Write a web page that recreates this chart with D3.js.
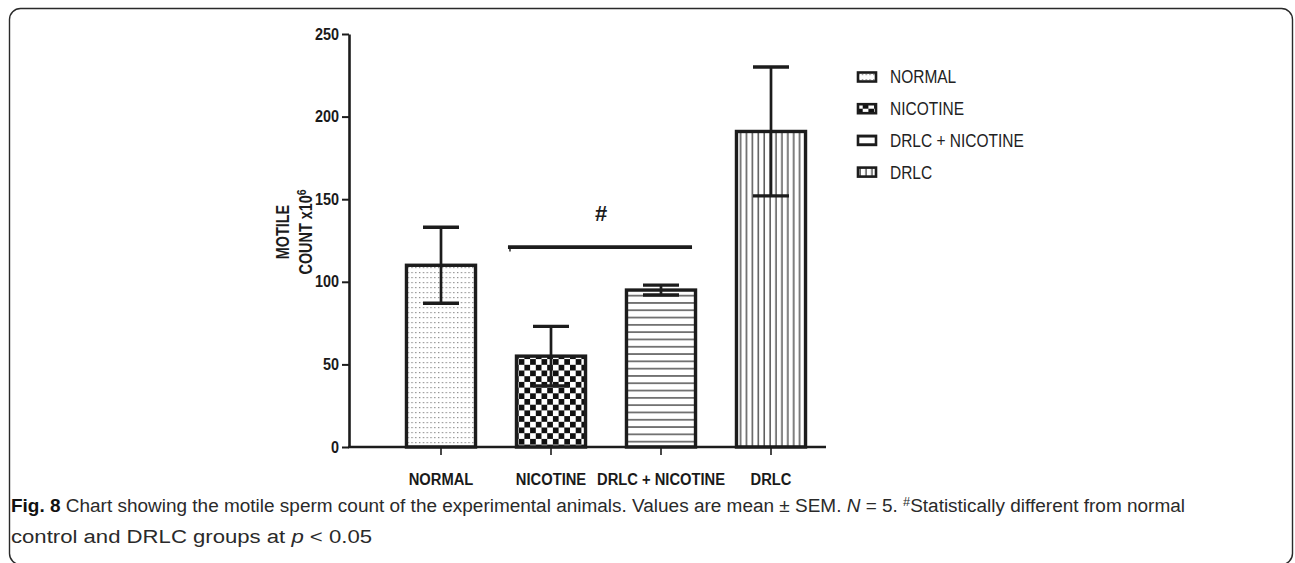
<!DOCTYPE html>
<html>
<head>
<meta charset="utf-8">
<script src="https://cdn.jsdelivr.net/npm/d3@7"></script>
<style>
  html, body { margin: 0; padding: 0; background: #fff; }
  svg { display: block; }
  .tick text { font-family: "Liberation Sans", Arial, sans-serif; font-weight: bold; font-size: 16px; fill: #1a1a1a; }
</style>
</head>
<body>
<svg id="chart" width="1295" height="563"></svg>
<script>
// Motile sperm count per group (mean ± SEM, x10^6)
const categories = ["NORMAL", "NICOTINE", "DRLC + NICOTINE", "DRLC"];
const means = [110, 55, 95, 191];
const sems = [23, 18, 3, 39];
const yTicks = [0, 50, 100, 150, 200, 250];
const sigBar = { from: "NICOTINE", to: "DRLC + NICOTINE", value: 121, label: "#" };

const svg = d3.select("#chart");
const ink = "#1c1c1c";

// Squeeze text horizontally to mimic a condensed typeface
function condense(sel, factor) {
  sel.each(function () {
    const w = this.getComputedTextLength();
    d3.select(this).attr("textLength", w * factor).attr("lengthAdjust", "spacingAndGlyphs");
  });
}

// Panel frame
svg.append("rect")
  .attr("x", 9.5).attr("y", 8.5)
  .attr("width", 1283).attr("height", 556)
  .attr("rx", 11).attr("ry", 11)
  .attr("fill", "none").attr("stroke", "#2a2a2a").attr("stroke-width", 1.4);

// Fill patterns for each group
const defs = svg.append("defs");

const pDots = defs.append("pattern").attr("id", "pat-dots")
  .attr("patternUnits", "userSpaceOnUse").attr("width", 3.8).attr("height", 5);
pDots.append("rect").attr("width", 3.8).attr("height", 5).attr("fill", "#fff");
pDots.append("rect").attr("x", 1).attr("y", 2).attr("width", 1.3).attr("height", 1.2).attr("fill", "#8a8a8a");

const pCheck = defs.append("pattern").attr("id", "pat-check")
  .attr("patternUnits", "userSpaceOnUse").attr("width", 11.4).attr("height", 11.4);
pCheck.append("rect").attr("width", 11.4).attr("height", 11.4).attr("fill", "#fff");
pCheck.append("rect").attr("width", 5.7).attr("height", 5.7).attr("fill", "#111");
pCheck.append("rect").attr("x", 5.7).attr("y", 5.7).attr("width", 5.7).attr("height", 5.7).attr("fill", "#111");

const pHoriz = defs.append("pattern").attr("id", "pat-horiz")
  .attr("patternUnits", "userSpaceOnUse").attr("width", 8).attr("height", 7.3);
pHoriz.append("rect").attr("width", 8).attr("height", 7.3).attr("fill", "#fff");
pHoriz.append("rect").attr("y", 3).attr("width", 8).attr("height", 1.3).attr("fill", "#3a3a3a");

const pVert = defs.append("pattern").attr("id", "pat-vert")
  .attr("patternUnits", "userSpaceOnUse").attr("width", 5.9).attr("height", 8);
pVert.append("rect").attr("width", 5.9).attr("height", 8).attr("fill", "#fff");
pVert.append("rect").attr("x", 2.5).attr("width", 1.2).attr("height", 8).attr("fill", "#2a2a2a");

const fills = ["url(#pat-dots)", "url(#pat-check)", "url(#pat-horiz)", "url(#pat-vert)"];

// Scales
const y = d3.scaleLinear().domain([0, 250]).range([447, 34]);
const x = d3.scaleBand().domain(categories).range([386, 826])
  .paddingInner(0.345).paddingOuter(0.1725);

const data = categories.map((c, i) => ({ cat: c, mean: means[i], sem: sems[i], fill: fills[i] }));

// Bars
svg.append("g").selectAll("rect").data(data).join("rect")
  .attr("x", d => x(d.cat) + 1.5)
  .attr("y", d => y(d.mean))
  .attr("width", x.bandwidth() - 3)
  .attr("height", d => y(0) - y(d.mean))
  .attr("fill", d => d.fill)
  .attr("stroke", ink).attr("stroke-width", 3.4);

// Error bars (mean ± SEM)
const capHalf = 18;
const eb = svg.append("g").attr("stroke", ink);
const cx = d => x(d.cat) + x.bandwidth() / 2;
eb.selectAll("line.stem").data(data).join("line").attr("class", "stem")
  .attr("x1", cx).attr("x2", cx)
  .attr("y1", d => y(d.mean + d.sem)).attr("y2", d => y(d.mean - d.sem))
  .attr("stroke-width", 2.7);
eb.selectAll("line.capTop").data(data).join("line").attr("class", "capTop")
  .attr("x1", d => cx(d) - capHalf).attr("x2", d => cx(d) + capHalf)
  .attr("y1", d => y(d.mean + d.sem)).attr("y2", d => y(d.mean + d.sem))
  .attr("stroke-width", 3.4);
eb.selectAll("line.capBot").data(data).join("line").attr("class", "capBot")
  .attr("x1", d => cx(d) - capHalf).attr("x2", d => cx(d) + capHalf)
  .attr("y1", d => y(d.mean - d.sem)).attr("y2", d => y(d.mean - d.sem))
  .attr("stroke-width", 3.4);

// Y axis
const yAxis = svg.append("g").attr("transform", "translate(349,0)")
  .call(d3.axisLeft(y).tickValues(yTicks).tickSize(7).tickSizeOuter(0).tickPadding(3));
yAxis.select(".domain").attr("stroke", ink).attr("stroke-width", 2.6);
yAxis.selectAll(".tick line").attr("stroke", ink).attr("stroke-width", 2);
condense(yAxis.selectAll(".tick text"), 0.9);

// X axis
const xAxis = svg.append("g").attr("transform", "translate(0,447)")
  .call(d3.axisBottom(x).tickSize(8).tickSizeOuter(0).tickPadding(19));
xAxis.select(".domain").remove();
xAxis.selectAll(".tick line").attr("stroke", ink).attr("stroke-width", 1.6);
condense(xAxis.selectAll(".tick text"), 0.92);
svg.append("line")
  .attr("x1", 348).attr("x2", 826).attr("y1", y(0)).attr("y2", y(0))
  .attr("stroke", ink).attr("stroke-width", 2.6);

// Y axis title (two lines, rotated)
const yTitle = svg.append("text")
  .attr("transform", "translate(283,232) rotate(-90) scale(0.8,1)")
  .attr("text-anchor", "middle")
  .attr("font-family", "Liberation Sans, Arial, sans-serif")
  .attr("font-weight", "bold").attr("font-size", 18).attr("fill", ink);
yTitle.append("tspan").attr("x", 0).attr("dy", "0.36em").text("MOTILE");
yTitle.append("tspan").attr("x", 0).attr("dy", "1.25em").text("COUNT x10");
yTitle.append("tspan").attr("dy", "-0.45em").attr("font-size", 13).text("6");

// Significance bar
const sx1 = x(sigBar.from) - 7, sx2 = x(sigBar.to) + x.bandwidth() - 5;
svg.append("line")
  .attr("x1", sx1).attr("x2", sx2).attr("y1", y(sigBar.value)).attr("y2", y(sigBar.value))
  .attr("stroke", ink).attr("stroke-width", 3.8);
svg.append("line")
  .attr("x1", sx1 + 2).attr("x2", sx1 + 2).attr("y1", y(sigBar.value)).attr("y2", y(sigBar.value) + 4.5)
  .attr("stroke", ink).attr("stroke-width", 1.4);
svg.append("text")
  .attr("x", (sx1 + sx2) / 2 + 1).attr("y", y(sigBar.value) - 26)
  .attr("text-anchor", "middle")
  .attr("font-family", "Liberation Sans, Arial, sans-serif")
  .attr("font-weight", "bold").attr("font-size", 22).attr("fill", ink)
  .text(sigBar.label);

// Legend
const legend = svg.append("g").attr("transform", "translate(857,77)");
const li = legend.selectAll("g").data(data).join("g")
  .attr("transform", (d, i) => `translate(0,${i * 31.7})`);
li.append("rect")
  .attr("x", 1).attr("y", -4.5).attr("width", 18).attr("height", 9)
  .attr("fill", d => d.fill).attr("stroke", ink).attr("stroke-width", 2.6);
const legText = li.append("text")
  .attr("x", 33).attr("y", 0).attr("dy", "0.36em")
  .attr("font-family", "Liberation Sans, Arial, sans-serif")
  .attr("font-size", 18).attr("fill", "#222")
  .text(d => d.cat);
condense(legText, 0.86);

// Caption
const cap = svg.append("g")
  .attr("font-family", "Liberation Sans, Arial, sans-serif")
  .attr("font-size", 18).attr("fill", "#2a2a2a");
const c1 = cap.append("text").attr("x", 11).attr("y", 512)
  .attr("textLength", 1174).attr("lengthAdjust", "spacingAndGlyphs");
c1.append("tspan").attr("font-weight", "bold").attr("fill", "#111").text("Fig. 8");
c1.append("tspan").text(" Chart showing the motile sperm count of the experimental animals. Values are mean \u00b1 SEM. ");
c1.append("tspan").attr("font-style", "italic").text("N");
c1.append("tspan").text(" = 5. ");
c1.append("tspan").attr("dy", -6).attr("font-size", 12).text("#");
c1.append("tspan").attr("dy", 6).text("Statistically different from normal");
const c2 = cap.append("text").attr("x", 11).attr("y", 543)
  .attr("textLength", 361).attr("lengthAdjust", "spacingAndGlyphs");
c2.append("tspan").text("control and DRLC groups at ");
c2.append("tspan").attr("font-style", "italic").text("p");
c2.append("tspan").text(" < 0.05");
</script>
</body>
</html>
